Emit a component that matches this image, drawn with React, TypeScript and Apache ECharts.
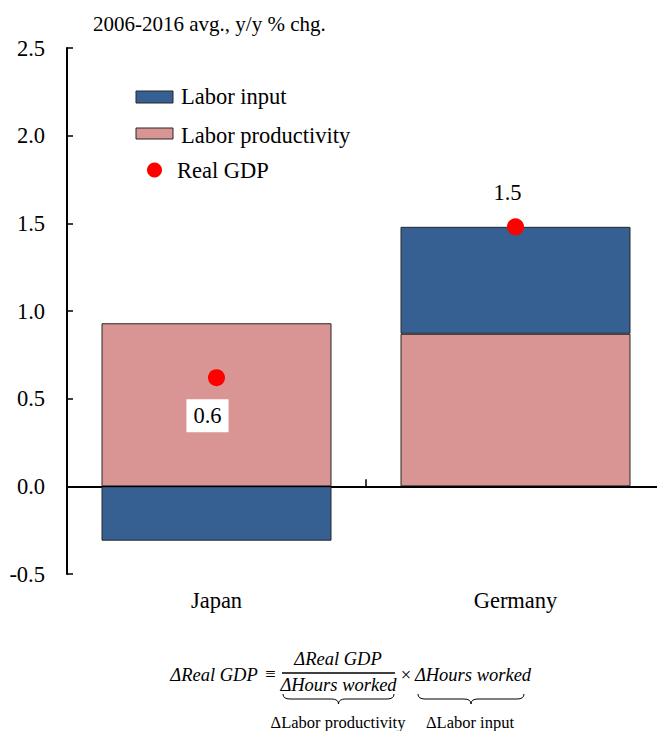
import React, { useEffect, useRef } from "react";
import * as echarts from "echarts";

const categories = ["Japan", "Germany"];
const laborProductivity = [0.93, 0.87];
const laborInput = [-0.31, 0.61];
const realGDP = [0.62, 1.48];
const yTicks = { min: -0.5, max: 2.5, interval: 0.5 };
const titleText = "2006-2016 avg., y/y % chg.";

const SERIF = "Liberation Serif, Times New Roman, serif";
const BLUE = "#376092";
const PINK = "#D99594";
const EDGE = "#262626";
const FS = 22.5;

function bracePath(w: number, h: number, r: number) {
  const m = w / 2;
  const y = h / 2;
  return `M0 0 Q0 ${y} ${r} ${y} L${m - r} ${y} Q${m} ${y} ${m} ${h} Q${m} ${y} ${m + r} ${y} L${w - r} ${y} Q${w} ${y} ${w} 0`;
}

let registered = false;
function registerShapes() {
  if (registered) return;
  registered = true;
  echarts.graphic.registerShape("braceA", echarts.graphic.extendPath(bracePath(111, 10, 7), {}) as any);
  echarts.graphic.registerShape("braceB", echarts.graphic.extendPath(bracePath(106, 10, 7), {}) as any);
}

export default function App() {
  const ref = useRef<HTMLDivElement>(null);
  useEffect(() => {
    if (!ref.current) return;
    registerShapes();
    const chart = echarts.init(ref.current, null, { renderer: "svg" });
    const gdpLabels = [
      { backgroundColor: "#ffffff", padding: [5, 7], offset: [-9, 38] },
      { offset: [-8, -34] },
    ];
    const mathText = (text: string, x: number, y: number, italic = true) => ({
      type: "text",
      x,
      y,
      style: {
        text,
        font: `${italic ? "italic " : ""}18.5px ${SERIF}`,
        fill: "#000",
        align: "center",
        verticalAlign: "middle",
      },
    });
    const noteText = (text: string, x: number, y: number) => ({
      type: "text",
      x,
      y,
      style: { text, font: `16.5px ${SERIF}`, fill: "#000", align: "center", verticalAlign: "middle" },
    });
    const option: any = {
      animation: false,
      backgroundColor: "#fff",
      title: {
        text: titleText,
        left: 93,
        top: 13,
        padding: 0,
        textStyle: { fontFamily: SERIF, fontSize: 21, fontWeight: "normal", color: "#000" },
      },
      grid: {
        left: 67,
        width: 598,
        top: 48,
        bottom: 157,
        containLabel: false,
        outerBoundsMode: "none",
      },
      xAxis: {
        type: "category",
        data: categories,
        axisLine: { show: true, lineStyle: { color: "#000", width: 2 } },
        axisTick: { show: true, inside: true, length: 7, interval: 0, lineStyle: { color: "#000", width: 1.5 } },
        axisLabel: { margin: 15, fontFamily: SERIF, fontSize: FS, color: "#000" },
        splitLine: { show: false },
      },
      yAxis: {
        type: "value",
        min: yTicks.min,
        max: yTicks.max,
        interval: yTicks.interval,
        axisLine: { show: true, lineStyle: { color: "#000", width: 2 } },
        axisTick: { show: true, inside: true, length: 6, lineStyle: { color: "#000", width: 1.5 } },
        axisLabel: {
          margin: 22,
          fontFamily: SERIF,
          fontSize: FS,
          color: "#000",
          formatter: (v: number) => v.toFixed(1),
        },
        splitLine: { show: false },
      },
      series: [
        {
          name: "Labor productivity",
          type: "bar",
          stack: "total",
          barWidth: 230,
          data: laborProductivity,
          itemStyle: { color: PINK, borderColor: EDGE, borderWidth: 1 },
          markLine: {
            silent: true,
            symbol: "none",
            label: { show: false },
            lineStyle: { color: "#000", width: 1, type: "solid" },
            data: [{ yAxis: 0 }],
            z: 5,
          },
        },
        {
          name: "Labor input",
          type: "bar",
          stack: "total",
          barWidth: 230,
          data: laborInput,
          itemStyle: { color: BLUE, borderColor: EDGE, borderWidth: 1 },
        },
        {
          name: "Real GDP",
          type: "scatter",
          symbol: "circle",
          symbolSize: 17,
          z: 10,
          itemStyle: { color: "#FF0000", opacity: 1 },
          label: {
            show: true,
            position: "inside",
            fontFamily: SERIF,
            fontSize: FS,
            color: "#000",
            opacity: 1,
            formatter: (p: any) => Number(p.value).toFixed(1),
          },
          data: realGDP.map((v, i) => ({ value: v, label: gdpLabels[i] })),
        },
      ],
      graphic: [
        // legend
        { type: "rect", shape: { x: 136, y: 91, width: 37, height: 12 }, style: { fill: BLUE, stroke: EDGE, lineWidth: 1 } },
        { type: "text", x: 181, y: 96, style: { text: "Labor input", font: `${FS}px ${SERIF}`, fill: "#000", verticalAlign: "middle" } },
        { type: "rect", shape: { x: 136, y: 128, width: 37, height: 11 }, style: { fill: PINK, stroke: EDGE, lineWidth: 1 } },
        { type: "text", x: 181, y: 135, style: { text: "Labor productivity", font: `${FS}px ${SERIF}`, fill: "#000", verticalAlign: "middle" } },
        { type: "circle", shape: { cx: 154.5, cy: 170, r: 7.5 }, style: { fill: "#FF0000" } },
        { type: "text", x: 177, y: 170, style: { text: "Real GDP", font: `${FS}px ${SERIF}`, fill: "#000", verticalAlign: "middle" } },
        // formula
        mathText("ΔReal GDP", 214, 675),
        mathText("≡", 270.5, 674, false),
        mathText("ΔReal GDP", 338, 659),
        { type: "line", shape: { x1: 282, y1: 673, x2: 395, y2: 673 }, style: { stroke: "#000", lineWidth: 1.3 } },
        mathText("ΔHours worked", 338.5, 685),
        mathText("×", 406, 675, false),
        mathText("ΔHours worked", 473, 675),
        { type: "braceA", x: 283, y: 694, style: { stroke: "#000", fill: "none", lineWidth: 1 } },
        { type: "braceB", x: 418, y: 694, style: { stroke: "#000", fill: "none", lineWidth: 1 } },
        noteText("ΔLabor productivity", 338, 722),
        noteText("ΔLabor input", 470, 722),
      ],
    };
    chart.setOption(option);
    return () => chart.dispose();
  }, []);
  return <div ref={ref} style={{ position: "fixed", left: 0, top: 0, width: 657, height: 731 }} />;
}
